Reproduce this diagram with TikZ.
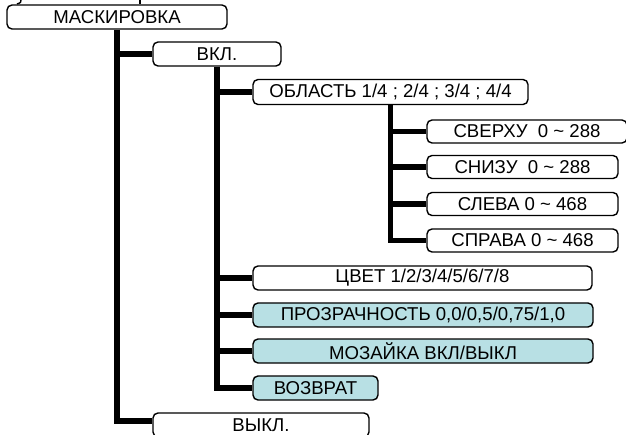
\documentclass[tikz,border=0pt]{standalone}
\usepackage{fontspec}
\setmainfont{Liberation Sans}
\usetikzlibrary{backgrounds}
\definecolor{lightcyan}{RGB}{184,224,228}
\tikzset{
  box/.style={draw=black, line width=1.4pt, rounded corners=5pt, fill=white,
    inner sep=0pt, minimum height=24pt, font=\fontsize{18.6}{21}\selectfont},
  cbox/.style={box, fill=lightcyan},
  trunk/.style={line width=5.5pt, line join=miter},
  thinline/.style={line width=2.2pt}
}
\begin{document}
\begin{tikzpicture}[x=1pt,y=-1pt]
\useasboundingbox (0,0) rectangle (626,435);
% nodes
\node[box, minimum width=220pt] (mask) at (117,17) {МАСКИРОВКА};
\node[box, minimum width=128pt] (vkl) at (217,54) {ВКЛ.};
\node[box, minimum width=275pt, minimum height=25pt] (obl) at (390.5,92) {ОБЛАСТЬ 1/4 ; 2/4 ; 3/4 ; 4/4};
\node[box, minimum width=200pt, minimum height=23pt] (sverhu) at (527,131.5) {СВЕРХУ\ \ 0 \char"007E{} 288};
\node[box, minimum width=191pt, minimum height=23pt] (snizu) at (522.5,167) {СНИЗУ\ \ 0 \char"007E{} 288};
\node[box, minimum width=191pt, minimum height=23pt] (sleva) at (522.5,204) {СЛЕВА 0 \char"007E{} 468};
\node[box, minimum width=191pt, minimum height=23pt] (sprava) at (522.5,240.5) {СПРАВА 0 \char"007E{} 468};
\node[box, minimum width=339pt] (cvet) at (422.5,278) {ЦВЕТ 1/2/3/4/5/6/7/8};
\node[cbox, minimum width=340pt] (prozr) at (423,315) {ПРОЗРАЧНОСТЬ 0,0/0,5/0,75/1,0};
\node[cbox, minimum width=340pt] (moz) at (423,351) {МОЗАЙКА ВКЛ/ВЫКЛ};
\node[cbox, minimum width=125pt] (vozv) at (315.5,388) {ВОЗВРАТ};
\node[box, minimum width=216pt] (vykl) at (261,425) {ВЫКЛ.};
\coordinate (top) at (140,0);
\coordinate (arcend) at (17,4);
% connectors (behind nodes)
\begin{scope}[on background layer]
  \draw[thinline] (top) -- (top |- mask.north);
  \draw[line width=1.4pt] (21,0) .. controls (21,2.5) .. (arcend);
  % level 1 trunk
  \draw[trunk] (mask.south) |- ([yshift=4pt]vykl.west);
  \draw[trunk] (mask.south |- vkl.west) -- (vkl.west);
  % level 2 trunk
  \draw[trunk] (vkl.south) |- (vozv.west);
  \foreach \n in {obl,cvet,prozr,moz}
    \draw[trunk] (vkl.south |- \n.west) -- (\n.west);
  % level 3 trunk
  \draw[trunk] (obl.south) |- (sprava.west);
  \foreach \n in {sverhu,snizu,sleva}
    \draw[trunk] (obl.south |- \n.west) -- (\n.west);
\end{scope}
\end{tikzpicture}
\end{document}
